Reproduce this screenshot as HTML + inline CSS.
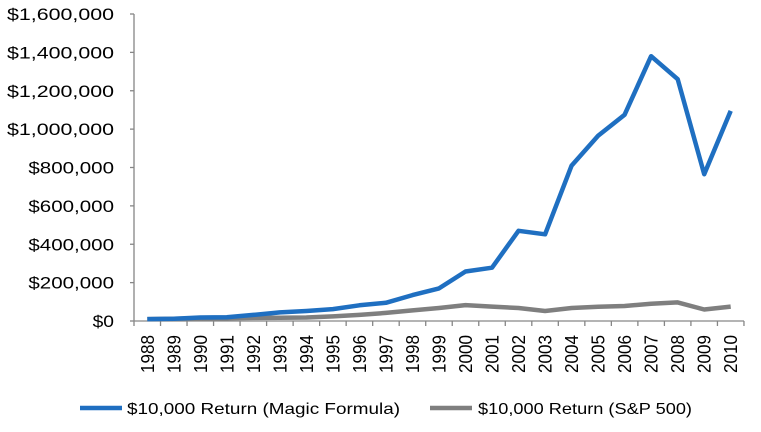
<!DOCTYPE html>
<html><head><meta charset="utf-8"><style>body{margin:0;background:#fff}svg{display:block}</style></head>
<body>
<svg width="761" height="432" viewBox="0 0 761 432" xmlns="http://www.w3.org/2000/svg" font-family="Liberation Sans, sans-serif">
<g stroke="#868686" stroke-width="1.3" fill="none">
<line x1="134" y1="14" x2="134" y2="321"/>
<line x1="134" y1="321" x2="744" y2="321"/>
</g>
<g id="yt" stroke="#868686" stroke-width="1.3"></g>
<g id="yl" font-size="17" fill="#000" text-anchor="end"></g>
<g id="xl" font-size="18" fill="#000"></g>
<polyline id="sp" fill="none" stroke="#7f7f7f" stroke-width="4.5" stroke-linejoin="round"/>
<polyline id="mf" fill="none" stroke="#1f6fc1" stroke-width="4.5" stroke-linejoin="round"/>
<line x1="80" y1="408" x2="122" y2="408" stroke="#1f6fc1" stroke-width="4.5"/>
<text x="127" y="414" font-size="16" textLength="273" lengthAdjust="spacingAndGlyphs">$10,000 Return (Magic Formula)</text>
<line x1="430" y1="408" x2="472" y2="408" stroke="#7f7f7f" stroke-width="4.5"/>
<text x="478" y="414" font-size="16" textLength="214" lengthAdjust="spacingAndGlyphs">$10,000 Return (S&amp;P 500)</text>
</svg>
<script>
const NS="http://www.w3.org/2000/svg";
const yt=document.getElementById('yt'),yl=document.getElementById('yl'),xl=document.getElementById('xl');
function Y(v){return 321-v/200000*38.375;}
const labs=["$0","$200,000","$400,000","$600,000","$800,000","$1,000,000","$1,200,000","$1,400,000","$1,600,000"];
labs.forEach((l,i)=>{const y=321-i*38.375;
let t=document.createElementNS(NS,'line');t.setAttribute('x1',130);t.setAttribute('x2',134);t.setAttribute('y1',y);t.setAttribute('y2',y);yt.appendChild(t);
let tx=document.createElementNS(NS,'text');tx.setAttribute('x',114);tx.setAttribute('y',y+6);tx.textContent=l;
tx.setAttribute('textLength',l.length*10.7);tx.setAttribute('lengthAdjust','spacingAndGlyphs');yl.appendChild(tx);});
const step=26.52;
for(let i=0;i<=23;i++){const x=134+i*step;let t=document.createElementNS(NS,'line');t.setAttribute('x1',x);t.setAttribute('x2',x);t.setAttribute('y1',321);t.setAttribute('y2',326);yt.appendChild(t);}
const mf=[10e3,12e3,18e3,20e3,32e3,45e3,52e3,62e3,82e3,95e3,135e3,170e3,258e3,278e3,470e3,452e3,810e3,965e3,1075e3,1380e3,1260e3,765e3,1095e3];
const sp=[10e3,12e3,13e3,14e3,16e3,17e3,18e3,24e3,32e3,42e3,55e3,68e3,83e3,75e3,68e3,52e3,68e3,74e3,78e3,90e3,97e3,60e3,75e3];
function pts(a){return a.map((v,i)=>(134+step*(i+0.5)).toFixed(1)+","+Y(v).toFixed(1)).join(" ");}
document.getElementById('mf').setAttribute('points',pts(mf));
document.getElementById('sp').setAttribute('points',pts(sp));
for(let i=0;i<23;i++){const x=134+step*(i+0.5)+6.5;let tx=document.createElementNS(NS,'text');
tx.setAttribute('transform',`translate(${x},373) rotate(-90)`);tx.setAttribute('textLength',38);tx.setAttribute('lengthAdjust','spacingAndGlyphs');tx.textContent=1988+i;xl.appendChild(tx);}
</script>
</body></html>
